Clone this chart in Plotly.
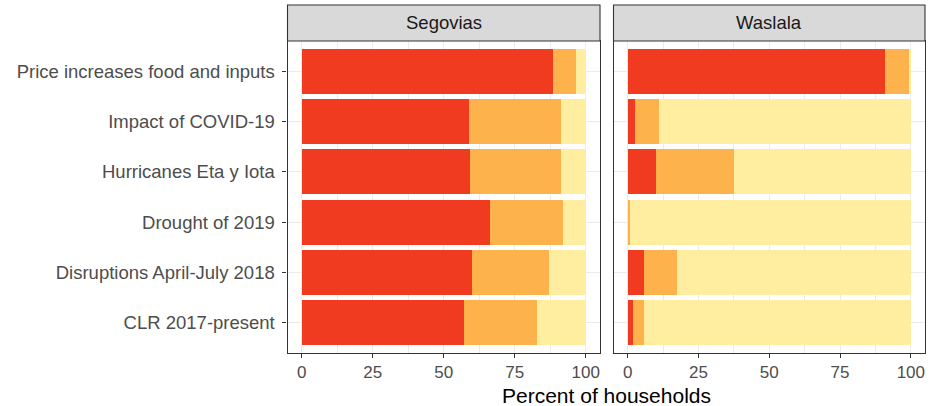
import plotly.graph_objects as go

categories = ["CLR 2017-present", "Disruptions April-July 2018", "Drought of 2019",
              "Hurricanes Eta y Iota", "Impact of COVID-19", "Price increases food and inputs"]

# Segovias (stacked percentages: high / medium / low impact)
seg_high = [57.3, 60.0, 66.4, 59.3, 58.9, 88.4]
seg_med = [25.4, 27.1, 25.7, 32.0, 32.4, 8.0]
seg_low = [17.3, 12.9, 7.9, 8.7, 8.7, 3.6]

# Waslala
was_high = [1.8, 5.8, 0.0, 10.0, 2.6, 90.9]
was_med = [4.0, 11.7, 0.8, 27.5, 8.3, 8.4]
was_low = [94.2, 82.5, 99.2, 62.5, 89.1, 0.7]

panels = ["Segovias", "Waslala"]
colors = ["#F03B20", "#FEB24C", "#FFEDA0"]

W, H = 931, 406
def px(x): return x / W
def py(y): return (H - y) / H

x_domains = [[px(287.5), px(600)], [px(613.5), px(925)]]
y_domain = [py(353), py(41)]

fig = go.Figure()
data = [(seg_high, seg_med, seg_low), (was_high, was_med, was_low)]
for i, series in enumerate(data):
    xa = "x" if i == 0 else "x2"
    ya = "y" if i == 0 else "y2"
    for vals, c in zip(series, colors):
        fig.add_trace(go.Bar(y=categories, x=vals, orientation="h", marker=dict(color=c, line=dict(width=0)),
                             xaxis=xa, yaxis=ya, showlegend=False))

font_family = "Liberation Sans, Arial, sans-serif"
axis_common = dict(
    range=[-5, 105], tickvals=[0, 25, 50, 75, 100], ticktext=["0", "25", "50", "75", "100"],
    showgrid=True, gridcolor="#EBEBEB", gridwidth=1.1, zeroline=False,
    minor=dict(tickvals=[12.5, 37.5, 62.5, 87.5], showgrid=True, gridcolor="#EBEBEB", gridwidth=0.6, ticks=""),
    ticks="outside", ticklen=4, tickcolor="#333333", tickwidth=1,
    tickfont=dict(size=17, color="#4D4D4D", family=font_family),
    ticklabelstandoff=0,
    showline=True, mirror=True, linecolor="#333333", linewidth=1.1,
)
y_common = dict(
    type="category", categoryorder="array", categoryarray=categories,
    range=[-0.6, 5.6], domain=y_domain, showgrid=True, gridcolor="#EBEBEB", gridwidth=1.1,
    showline=True, mirror=True, linecolor="#333333", linewidth=1.1, zeroline=False,
)

fig.update_layout(
    width=W, height=H, margin=dict(l=0, r=0, t=0, b=0, autoexpand=False),
    paper_bgcolor="white", plot_bgcolor="white",
    barmode="stack", bargap=0.1,
    font=dict(family=font_family),
    xaxis=dict(domain=x_domains[0], anchor="y", **axis_common),
    xaxis2=dict(domain=x_domains[1], anchor="y2", **axis_common),
    yaxis=dict(anchor="x", ticks="outside", ticklen=4, tickcolor="#333333", ticklabelstandoff=4,
               tickfont=dict(size=18.5, color="#4D4D4D", family=font_family), **y_common),
    yaxis2=dict(anchor="x2", showticklabels=False, ticks="", **y_common),
)

shapes = []
annotations = []
for i, name in enumerate(panels):
    d = x_domains[i]
    shapes.append(dict(type="rect", xref="paper", yref="paper", x0=d[0], x1=d[1], y0=py(41), y1=py(5),
                       fillcolor="#D9D9D9", line=dict(color="#333333", width=1.1), layer="above"))
    annotations.append(dict(text=name, xref="paper", yref="paper", x=(d[0] + d[1]) / 2, y=py(23),
                            xanchor="center", yanchor="middle", showarrow=False,
                            font=dict(size=18.5, color="#1A1A1A", family=font_family)))
annotations.append(dict(text="Percent of households", xref="paper", yref="paper",
                        x=(x_domains[0][0] + x_domains[1][1]) / 2, y=0, yshift=-2, borderpad=0,
                        xanchor="center", yanchor="bottom", showarrow=False,
                        font=dict(size=21, color="black", family=font_family)))
fig.update_layout(shapes=shapes, annotations=annotations)

fig.write_html("out.html", config={"displayModeBar": False},
               post_script="document.body.style.margin='0';document.body.style.overflow='hidden';")
